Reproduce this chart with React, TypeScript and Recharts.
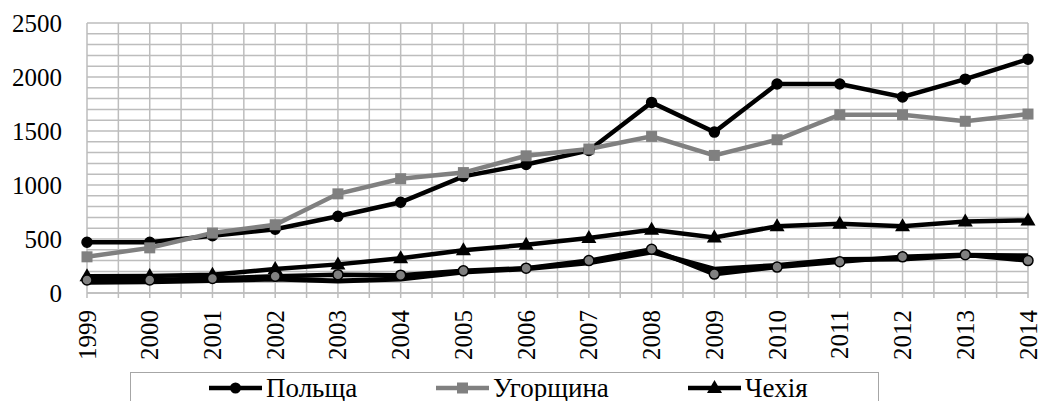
import React from 'react';
import { LineChart, Line, XAxis, YAxis, CartesianGrid, Legend } from 'recharts';

const years = [1999, 2000, 2001, 2002, 2003, 2004, 2005, 2006, 2007, 2008, 2009, 2010, 2011, 2012, 2013, 2014];
const poland = [470, 470, 530, 590, 710, 840, 1080, 1190, 1320, 1765, 1490, 1935, 1935, 1815, 1980, 2165];
const hungary = [335, 418, 555, 632, 918, 1058, 1115, 1270, 1333, 1450, 1274, 1419, 1651, 1651, 1590, 1657];
const czech = [155, 158, 170, 222, 265, 322, 395, 447, 509, 586, 515, 617, 642, 617, 663, 672];
const slovenia = [100, 105, 115, 130, 110, 130, 195, 225, 280, 380, 220, 255, 310, 315, 350, 345];
const slovakia = [120, 120, 135, 155, 170, 165, 205, 230, 300, 405, 175, 240, 290, 335, 355, 300];
const yTicks = [0, 500, 1000, 1500, 2000, 2500];

const seriesNames = ['Польща', 'Угорщина', 'Чехія', 'Словенія', 'Словаччина'];

const data = years.map((y, i) => ({
  year: y,
  s0: poland[i],
  s1: hungary[i],
  s2: czech[i],
  s3: slovenia[i],
  s4: slovakia[i],
}));

const halfYears: number[] = [];
for (let i = 0; i <= (years[years.length - 1] - years[0]) * 2; i++) halfYears.push(years[0] + i / 2);
const gridY: number[] = [];
for (let v = 0; v <= 2500; v += 100) gridY.push(v);

const FONT = '"Liberation Serif", serif';
const GRID = '#bdbdbd';
const GRAY = '#808080';

const circleDot = (fill: string, stroke: string, r: number) => (props: any) => {
  const { cx, cy, index } = props;
  if (cx == null || cy == null) return <g key={index} />;
  return <circle key={index} cx={cx} cy={cy} r={r} fill={fill} stroke={stroke} strokeWidth={1.5} />;
};
const squareDot = (props: any) => {
  const { cx, cy, index } = props;
  if (cx == null || cy == null) return <g key={index} />;
  return <rect key={index} x={cx - 5.5} y={cy - 5.5} width={11} height={11} fill={GRAY} />;
};
const triDot = (props: any) => {
  const { cx, cy, index } = props;
  if (cx == null || cy == null) return <g key={index} />;
  return <polygon key={index} points={`${cx},${cy - 8} ${cx - 7.5},${cy + 5} ${cx + 7.5},${cy + 5}`} fill="#000" />;
};

const XTick = (props: any) => {
  const { x, y, payload } = props;
  if (!Number.isInteger(payload.value)) return <g />;
  return (
    <text x={x} y={y} transform={`rotate(-90, ${x}, ${y})`} textAnchor="end" dominantBaseline="central"
      style={{ fontFamily: FONT, fontSize: 25 }} fill="#000">{payload.value}</text>
  );
};
const YTick = (props: any) => {
  const { x, y, payload } = props;
  return (
    <text x={x} y={y} textAnchor="end" dominantBaseline="central" style={{ fontFamily: FONT, fontSize: 25 }} fill="#000">{payload.value}</text>
  );
};

const LegendIcon = ({ kind }: { kind: number }) => {
  const color = kind === 1 ? GRAY : '#000';
  return (
    <svg width={55} height={20} style={{ display: 'block' }}>
      <line x1={1} y1={10} x2={54} y2={10} stroke={color} strokeWidth={4.5} />
      {kind === 0 && <circle cx={27.5} cy={10} r={5.5} fill="#000" />}
      {kind === 1 && <rect x={22} y={4.5} width={11} height={11} fill={GRAY} />}
      {kind === 2 && <polygon points="27.5,2 20,15 35,15" fill="#000" />}
      {kind === 4 && <circle cx={27.5} cy={10} r={5} fill={GRAY} stroke="#000" strokeWidth={1.5} />}
    </svg>
  );
};

const itemPos = [
  { left: 77, top: 5 },
  { left: 304, top: 5 },
  { left: 556, top: 5 },
  { left: 180, top: 50 },
  { left: 460, top: 50 },
];

const renderLegend = () => (
  <div style={{ position: 'relative', width: 749, height: 90, boxSizing: 'border-box', border: '1.5px solid #a6a6a6', background: '#fff' }}>
    {seriesNames.map((n, i) => (
      <div key={n} style={{ position: 'absolute', left: itemPos[i].left, top: itemPos[i].top, display: 'flex', alignItems: 'center', height: 20 }}>
        <LegendIcon kind={i} />
        <span style={{ fontFamily: FONT, fontSize: 27, color: '#000', marginLeft: 3, lineHeight: '20px', whiteSpace: 'nowrap' }}>{n}</span>
      </div>
    ))}
  </div>
);

export default function App() {
  return (
    <div style={{ position: 'absolute', left: 0, top: 0, width: 1043, height: 401, background: '#fff', fontFamily: FONT }}>
      <LineChart width={1043} height={401} data={data} margin={{ top: 23, right: 15, left: 0, bottom: 0 }}>
        <CartesianGrid stroke={GRID} strokeWidth={1.5} horizontalValues={gridY} verticalValues={halfYears} />
        <XAxis type="number" dataKey="year" domain={[1999, 2014]} ticks={halfYears} interval={0}
          height={48} tick={<XTick />} tickSize={5} tickMargin={12} axisLine={{ stroke: GRID, strokeWidth: 1.5 }}
          tickLine={{ stroke: GRID, strokeWidth: 1.5 }} />
        <YAxis domain={[0, 2500]} ticks={yTicks} width={87} tick={<YTick />} tickSize={0} tickMargin={25}
          axisLine={false} tickLine={false} interval={0} />
        <Legend verticalAlign="bottom" content={renderLegend}
          wrapperStyle={{ left: 130, top: 372, bottom: 'auto', width: 749, height: 60 }} />
        <Line dataKey="s0" name={seriesNames[0]} stroke="#000" strokeWidth={4.5} dot={circleDot('#000', '#000', 5)} isAnimationActive={false} />
        <Line dataKey="s1" name={seriesNames[1]} stroke={GRAY} strokeWidth={4.5} dot={squareDot} isAnimationActive={false} />
        <Line dataKey="s2" name={seriesNames[2]} stroke="#000" strokeWidth={4.5} dot={triDot} isAnimationActive={false} />
        <Line dataKey="s3" name={seriesNames[3]} stroke="#000" strokeWidth={5} dot={false} isAnimationActive={false} />
        <Line dataKey="s4" name={seriesNames[4]} stroke="#000" strokeWidth={4.5} dot={circleDot(GRAY, '#000', 5)} isAnimationActive={false} />
      </LineChart>
    </div>
  );
}
